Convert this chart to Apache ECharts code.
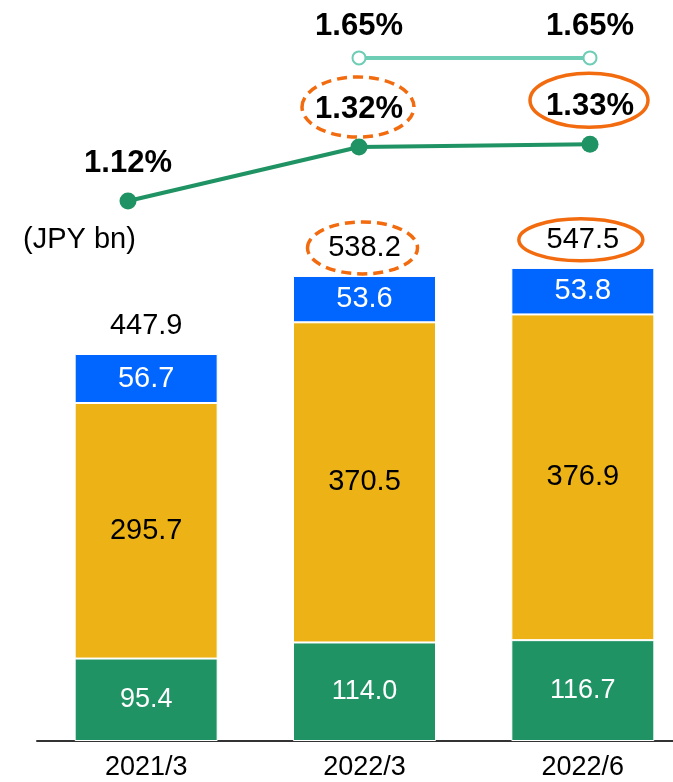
<!DOCTYPE html>
<html lang="ja">
<head>
    <meta charset="UTF-8">
    <title>JPY bn</title>
    <script src="https://cdn.jsdelivr.net/npm/echarts@6/dist/echarts.min.js"></script>
    <style>
        html, body { margin: 0; padding: 0; background: #fff; }
        #main { width: 673px; height: 782px; }
    </style>
</head>
<body>
	<div id="main"></div>
	<script>
        // data
        var periods = ['2021/3', '2022/3', '2022/6'];
        var greenPart = [95.4, 114.0, 116.7];
        var yellowPart = [295.7, 370.5, 376.9];
        var bluePart = [56.7, 53.6, 53.8];
        var totals = [447.9, 538.2, 547.5];
        var ratio = [1.12, 1.32, 1.33];
        var target = [null, 1.65, 1.65];

        var sans = '"Liberation Sans", Arial, sans-serif';

	    var myChart = echarts.init(document.getElementById('main'));

        function segLabel(color, size) {
            return {
                show: true,
                position: 'inside',
                color: color,
                fontSize: size,
                fontFamily: sans,
                formatter: function (p) { return p.value.toFixed(1); }
            };
        }

	    var option = {
            animation: false,
            textStyle: { fontFamily: sans },
            title: {
                text: '(JPY bn)',
                left: 18,
                top: 220,
                textStyle: { fontSize: 29, fontWeight: 'normal', color: '#000', fontFamily: sans }
            },
	        grid: [
                { left: 37, width: 655, top: 41, height: 700, outerBoundsMode: 'none' },
                { left: 128, width: 462, top: 41, height: 700, outerBoundsMode: 'none' }
            ],
	        xAxis: [
                {
                    type: 'category',
                    gridIndex: 0,
                    data: periods,
                    axisLine: { lineStyle: { color: '#333', width: 2 } },
                    axisTick: { show: false },
                    axisLabel: { color: '#000', fontSize: 27, fontFamily: sans, margin: 13 }
                },
                {
                    type: 'category',
                    gridIndex: 1,
                    data: periods,
                    boundaryGap: false,
                    show: false
                }
            ],
	        yAxis: [
                { type: 'value', gridIndex: 0, min: 0, max: 810, show: false },
                { type: 'value', gridIndex: 1, min: -0.88, max: 1.7126, show: false }
            ],
	        series: [
                {
                    name: 'total',
                    type: 'bar',
                    data: totals,
                    barWidth: 143,
                    barGap: '-100%',
                    z: 1,
                    itemStyle: { color: 'rgba(0,0,0,0)' },
                    label: {
                        show: true,
                        position: 'top',
                        distance: 13,
                        color: '#000',
                        fontSize: 29,
                        fontFamily: sans,
                        formatter: function (p) { return p.value.toFixed(1); }
                    }
                },
	            {
	                name: 'green',
	                type: 'bar',
	                stack: 'amt',
	                data: greenPart,
                    barWidth: 143,
                    barGap: '-100%',
                    z: 2,
                    itemStyle: { color: '#209364', borderColor: '#fff', borderWidth: 1 },
                    label: segLabel('#fff', 27)
	            },
                {
	                name: 'yellow',
	                type: 'bar',
	                stack: 'amt',
	                data: yellowPart,
                    barWidth: 143,
                    barGap: '-100%',
                    z: 2,
                    itemStyle: { color: '#EDB316', borderColor: '#fff', borderWidth: 1 },
                    label: segLabel('#000', 29)
	            },
                {
	                name: 'blue',
	                type: 'bar',
	                stack: 'amt',
	                data: bluePart,
                    barWidth: 143,
                    barGap: '-100%',
                    z: 2,
                    itemStyle: { color: '#0066FF', borderColor: '#fff', borderWidth: 1 },
                    label: segLabel('#fff', 29)
	            },
                {
                    name: 'ratio',
                    type: 'line',
                    xAxisIndex: 1,
                    yAxisIndex: 1,
                    data: ratio,
                    symbol: 'circle',
                    symbolSize: 17,
                    z: 5,
                    lineStyle: { color: '#1F9363', width: 4 },
                    itemStyle: { color: '#1F9363' },
                    label: {
                        show: true,
                        position: 'top',
                        distance: 14,
                        color: '#000',
                        fontSize: 31,
                        fontWeight: 'bold',
                        fontFamily: sans,
                        formatter: function (p) { return p.value.toFixed(2) + '%'; }
                    }
                },
                {
                    name: 'target',
                    type: 'line',
                    xAxisIndex: 1,
                    yAxisIndex: 1,
                    data: target,
                    symbol: 'circle',
                    symbolSize: 13,
                    z: 5,
                    lineStyle: { color: '#6ECDB5', width: 4 },
                    itemStyle: { color: '#fff', borderColor: '#6ECDB5', borderWidth: 2 },
                    label: {
                        show: true,
                        position: 'top',
                        distance: 8,
                        color: '#000',
                        fontSize: 31,
                        fontWeight: 'bold',
                        fontFamily: sans,
                        formatter: function (p) { return p.value.toFixed(2) + '%'; }
                    }
                }
	        ]
	    };
	    myChart.setOption(option);

        // orange ellipses round the 2022 labels, placed from the chart's own scales
        var ovals = [];
        [1, 2].forEach(function (i) {
            var dashed = i === 1;
            var style = {
                fill: 'none',
                stroke: '#F26B0F',
                lineWidth: 3.5,
                lineDash: dashed ? [10, 6] : null
            };
            var bar = myChart.convertToPixel({ xAxisIndex: 0, yAxisIndex: 0 }, [i, totals[i]]);
            var pt = myChart.convertToPixel({ xAxisIndex: 1, yAxisIndex: 1 }, [i, ratio[i]]);
            ovals.push({
                type: 'ellipse',
                z: 10,
                shape: { cx: bar[0] - 2, cy: bar[1] - 28, rx: dashed ? 55 : 62, ry: dashed ? 26 : 21 },
                style: style
            });
            ovals.push({
                type: 'ellipse',
                z: 10,
                shape: { cx: pt[0] - 1, cy: pt[1] - (dashed ? 40 : 44), rx: dashed ? 56 : 59, ry: dashed ? 30 : 27 },
                style: style
            });
        });
        myChart.setOption({ graphic: ovals });
	</script>
</body>
</html>
